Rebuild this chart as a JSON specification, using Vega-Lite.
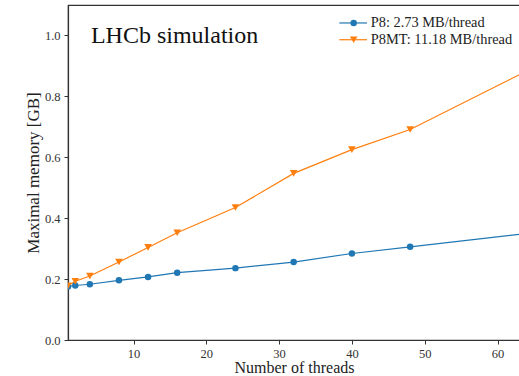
{
  "$schema": "https://vega.github.io/schema/vega-lite/v6.json",
  "width": 452,
  "height": 335,
  "autosize": {"type": "none"},
  "padding": {"left": 68, "top": 5, "right": 0, "bottom": 36},
  "background": "white",
  "config": {
    "font": "Liberation Serif",
    "view": {"stroke": "#333", "strokeWidth": 1.2},
    "axis": {
      "grid": false,
      "domainColor": "#333",
      "domainWidth": 1.2,
      "tickColor": "#333",
      "tickWidth": 1,
      "tickSize": 4,
      "labelFont": "Liberation Serif",
      "labelFontSize": 12.5,
      "labelColor": "#333",
      "titleFont": "Liberation Serif",
      "titleFontSize": 16,
      "titleFontWeight": "normal",
      "titleColor": "#222"
    }
  },
  "datasets": {
    "memory": [
      {"threads": 1, "memory": 0.176, "series": "P8"},
      {"threads": 2, "memory": 0.179, "series": "P8"},
      {"threads": 4, "memory": 0.183, "series": "P8"},
      {"threads": 8, "memory": 0.196, "series": "P8"},
      {"threads": 12, "memory": 0.207, "series": "P8"},
      {"threads": 16, "memory": 0.221, "series": "P8"},
      {"threads": 24, "memory": 0.236, "series": "P8"},
      {"threads": 32, "memory": 0.256, "series": "P8"},
      {"threads": 40, "memory": 0.284, "series": "P8"},
      {"threads": 48, "memory": 0.306, "series": "P8"},
      {"threads": 64, "memory": 0.350, "series": "P8"},
      {"threads": 1, "memory": 0.178, "series": "P8MT"},
      {"threads": 2, "memory": 0.193, "series": "P8MT"},
      {"threads": 4, "memory": 0.210, "series": "P8MT"},
      {"threads": 8, "memory": 0.256, "series": "P8MT"},
      {"threads": 12, "memory": 0.304, "series": "P8MT"},
      {"threads": 16, "memory": 0.352, "series": "P8MT"},
      {"threads": 24, "memory": 0.435, "series": "P8MT"},
      {"threads": 32, "memory": 0.547, "series": "P8MT"},
      {"threads": 40, "memory": 0.625, "series": "P8MT"},
      {"threads": 48, "memory": 0.691, "series": "P8MT"},
      {"threads": 64, "memory": 0.883, "series": "P8MT"}
    ],
    "legend": [
      {"series": "P8", "label": "P8: 2.73 MB/thread"},
      {"series": "P8MT", "label": "P8MT: 11.18 MB/thread"}
    ],
    "title": [
      {"label": "LHCb simulation"}
    ]
  },
  "layer": [
    {
      "data": {"name": "memory"},
      "mark": {"type": "line", "strokeWidth": 1.2, "clip": true},
      "encoding": {
        "x": {
          "field": "threads",
          "type": "quantitative",
          "scale": {"domain": [1, 63.09], "nice": false, "zero": false},
          "axis": {"values": [10, 20, 30, 40, 50, 60], "title": "Number of threads", "titlePadding": 0, "labelPadding": 3}
        },
        "y": {
          "field": "memory",
          "type": "quantitative",
          "scale": {"domain": [0, 1.1], "nice": false},
          "axis": {"values": [0, 0.2, 0.4, 0.6, 0.8, 1.0], "format": ".1f", "title": "Maximal memory [GB]", "titleFontSize": 17, "titlePadding": 2, "labelPadding": 4}
        },
        "color": {
          "field": "series",
          "type": "nominal",
          "scale": {"domain": ["P8", "P8MT"], "range": ["#1f77b4", "#ff7f0e"]},
          "legend": null
        }
      }
    },
    {
      "data": {"name": "memory"},
      "mark": {"type": "point", "filled": true, "opacity": 1, "clip": true},
      "encoding": {
        "x": {"field": "threads", "type": "quantitative"},
        "y": {"field": "memory", "type": "quantitative"},
        "color": {"field": "series", "type": "nominal", "legend": null},
        "shape": {
          "field": "series",
          "type": "nominal",
          "scale": {"domain": ["P8", "P8MT"], "range": ["circle", "triangle-down"]},
          "legend": null
        },
        "size": {
          "field": "series",
          "type": "nominal",
          "scale": {"domain": ["P8", "P8MT"], "range": [42, 58]},
          "legend": null
        }
      }
    },
    {
      "data": {"name": "legend"},
      "transform": [{"filter": "datum.series == 'P8'"}],
      "encoding": {
        "y": {"datum": 1.041},
        "color": {"field": "series", "type": "nominal", "legend": null}
      },
      "layer": [
        {"mark": {"type": "rule", "strokeWidth": 1.2}, "encoding": {"x": {"datum": 38.27}, "x2": {"datum": 42.07}}},
        {"mark": {"type": "point", "filled": true, "opacity": 1}, "encoding": {"x": {"datum": 40.24}, "shape": {"field": "series", "type": "nominal", "legend": null}, "size": {"field": "series", "type": "nominal", "legend": null}}},
        {"mark": {"type": "text", "font": "Liberation Serif", "fontSize": 14.4, "align": "left", "baseline": "middle"}, "encoding": {"x": {"datum": 42.58}, "text": {"field": "label"}, "color": {"value": "#222"}}}
      ]
    },
    {
      "data": {"name": "legend"},
      "transform": [{"filter": "datum.series == 'P8MT'"}],
      "encoding": {
        "y": {"datum": 0.986},
        "color": {"field": "series", "type": "nominal", "legend": null}
      },
      "layer": [
        {"mark": {"type": "rule", "strokeWidth": 1.2}, "encoding": {"x": {"datum": 38.27}, "x2": {"datum": 42.07}}},
        {"mark": {"type": "point", "filled": true, "opacity": 1}, "encoding": {"x": {"datum": 40.24}, "shape": {"field": "series", "type": "nominal", "legend": null}, "size": {"field": "series", "type": "nominal", "legend": null}}},
        {"mark": {"type": "text", "font": "Liberation Serif", "fontSize": 14.4, "align": "left", "baseline": "middle"}, "encoding": {"x": {"datum": 42.58}, "text": {"field": "label"}, "color": {"value": "#222"}}}
      ]
    },
    {
      "data": {"name": "title"},
      "mark": {"type": "text", "font": "Liberation Serif", "fontSize": 24, "align": "left", "baseline": "alphabetic", "color": "#111"},
      "encoding": {
        "x": {"datum": 4.15},
        "y": {"datum": 0.975},
        "text": {"field": "label"}
      }
    }
  ]
}
